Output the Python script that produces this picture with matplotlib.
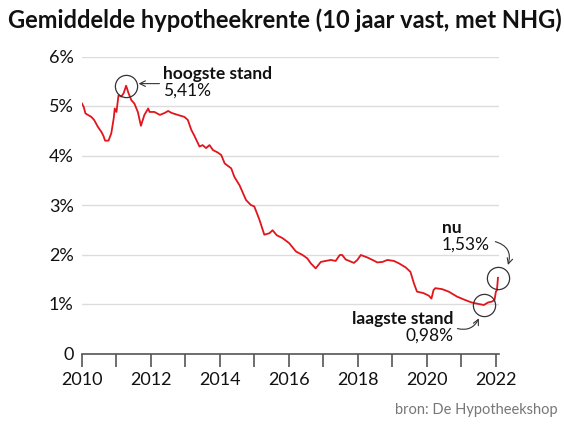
import matplotlib
matplotlib.use('Agg')
import matplotlib.pyplot as plt
import matplotlib.transforms as mtransforms
from matplotlib.ticker import FuncFormatter

plt.rcParams['font.family'] = ['Lato', 'DejaVu Sans']

# gemiddelde hypotheekrente, 10 jaar vast met NHG
dates = [2010.00, 2010.05, 2010.10, 2010.27, 2010.35, 2010.46, 2010.56, 2010.62,
         2010.67, 2010.77, 2010.85, 2010.92, 2010.95, 2011.00, 2011.06, 2011.14,
         2011.21, 2011.28, 2011.35, 2011.43, 2011.52, 2011.62, 2011.71, 2011.81,
         2011.92, 2011.96, 2012.10, 2012.26, 2012.40, 2012.50, 2012.60, 2012.78,
         2012.97, 2013.07, 2013.17, 2013.26, 2013.41, 2013.50, 2013.60, 2013.70,
         2013.80, 2013.94, 2014.04, 2014.14, 2014.33, 2014.42, 2014.57, 2014.76,
         2014.90, 2015.00, 2015.15, 2015.29, 2015.44, 2015.53, 2015.65, 2015.82,
         2016.01, 2016.21, 2016.40, 2016.54, 2016.64, 2016.78, 2016.93, 2017.07,
         2017.22, 2017.36, 2017.48, 2017.55, 2017.65, 2017.89, 2017.99, 2018.09,
         2018.28, 2018.43, 2018.57, 2018.72, 2018.86, 2019.05, 2019.20, 2019.39,
         2019.53, 2019.63, 2019.72, 2019.91, 2020.06, 2020.14, 2020.20, 2020.25,
         2020.45, 2020.64, 2020.88, 2021.12, 2021.31, 2021.51, 2021.66, 2021.78,
         2021.90, 2021.97, 2022.01, 2022.04, 2022.07]
rates = [5.05, 4.98, 4.85, 4.78, 4.72, 4.58, 4.48, 4.40,
         4.30, 4.30, 4.45, 4.75, 4.95, 4.88, 5.22, 5.19,
         5.26, 5.41, 5.26, 5.12, 5.05, 4.88, 4.60, 4.82,
         4.95, 4.88, 4.88, 4.82, 4.86, 4.90, 4.86, 4.82,
         4.78, 4.72, 4.52, 4.40, 4.18, 4.21, 4.15, 4.21,
         4.11, 4.06, 4.01, 3.84, 3.74, 3.57, 3.40, 3.10,
         3.00, 2.97, 2.70, 2.40, 2.43, 2.49, 2.39, 2.33,
         2.23, 2.06, 1.99, 1.92, 1.82, 1.72, 1.85, 1.87,
         1.89, 1.87, 1.99, 1.99, 1.90, 1.83, 1.89, 1.99,
         1.94, 1.89, 1.84, 1.85, 1.89, 1.87, 1.82, 1.74,
         1.65, 1.42, 1.25, 1.22, 1.17, 1.11, 1.28, 1.32,
         1.30, 1.25, 1.15, 1.08, 1.03, 1.00, 0.98, 1.03,
         1.05, 1.08, 1.25, 1.28, 1.53]

year_ticks = list(range(2010, 2023))
labelled_years = [2010, 2012, 2014, 2016, 2018, 2020, 2022]
pct_ticks = [0, 1, 2, 3, 4, 5, 6]

i_high = rates.index(max(rates))
i_low = rates.index(min(rates))
i_now = len(rates) - 1

fig = plt.figure(figsize=(5.64, 4.24), dpi=100)
ax = fig.add_axes([82 / 564, 1 - 353.5 / 424, (499 - 82) / 564, (353.5 - 56.5) / 424])

ax.plot(dates, rates, color='#e2141c', lw=1.3, zorder=3)
ax.set_xlim(2010, 2022.1)
ax.set_ylim(0, 6)

ax.set_yticks(pct_ticks)
ax.yaxis.set_major_formatter(FuncFormatter(lambda v, p: '0' if v == 0 else f'{v:.0f}%'))
ax.set_xticks(year_ticks)
ax.set_xticklabels([str(y) if y in labelled_years else '' for y in year_ticks])
ax.grid(axis='y', color='#dcdcdc', lw=1)
ax.set_axisbelow(True)
for s in ['top', 'right', 'left']:
    ax.spines[s].set_visible(False)
ax.spines['bottom'].set_color('#555555')
ax.spines['bottom'].set_linewidth(1.2)
ax.tick_params(axis='y', length=0, pad=6, labelsize=13, labelcolor='#111111')
ax.tick_params(axis='x', direction='out', length=9, width=1.2, color='#555555',
               pad=4, labelsize=13, labelcolor='#111111')


def shifted(dx, dy):
    # data point moved by (dx, dy) points
    return ax.transData + mtransforms.ScaledTranslation(dx / 72, dy / 72, fig.dpi_scale_trans)


circ = dict(marker='o', ms=16, mfc='none', mec='#333333', mew=0.9, zorder=4, clip_on=False)
for i in (i_high, i_low, i_now):
    ax.plot([dates[i]], [rates[i]], **circ)

arrow = dict(arrowstyle='->', color='#333333', lw=0.8, shrinkA=0, shrinkB=0)

# hoogste stand
dh, vh = dates[i_high], rates[i_high]
ax.annotate('', xy=(dh, vh), xycoords=shifted(9, 1.5),
            xytext=(dh, vh), textcoords=shifted(24, 1.5), arrowprops=arrow)
ax.text(dh, vh, 'hoogste stand', transform=shifted(26.5, 8.5), fontsize=12.5,
        fontweight='bold', ha='left', va='center', color='#111111')
ax.text(dh, vh, '5,41%', transform=shifted(26.5, -3.8), fontsize=12.5,
        ha='left', va='center', color='#111111')

# laagste stand
dl, vl = dates[i_low], rates[i_low]
ax.annotate('', xy=(dl, vl), xycoords=shifted(-3.6, -9.6),
            xytext=(dl, vl), textcoords=shifted(-19, -17),
            arrowprops=dict(arrow, connectionstyle='arc3,rad=0.4'))
ax.text(dl, vl, 'laagste stand', transform=shifted(-22, -10), fontsize=12.5,
        fontweight='bold', ha='right', va='center', color='#111111')
ax.text(dl, vl, '0,98%', transform=shifted(-22, -22.3), fontsize=12.5,
        ha='right', va='center', color='#111111')

# nu
dn, vn = dates[i_now], rates[i_now]
ax.annotate('', xy=(dn, vn), xycoords=shifted(7.2, 9.2),
            xytext=(dn, vn), textcoords=shifted(-1.9, 26),
            arrowprops=dict(arrow, connectionstyle='arc3,rad=-0.5'))
ax.text(dn, vn, 'nu', transform=shifted(-40.5, 35.9), fontsize=12.5,
        fontweight='bold', ha='left', va='center', color='#111111')
ax.text(dn, vn, '1,53%', transform=shifted(-40.5, 23.6), fontsize=12.5,
        ha='left', va='center', color='#111111')

fig.text(8 / 564, 1 - 20 / 424, 'Gemiddelde hypotheekrente (10 jaar vast, met NHG)',
         fontsize=17, fontweight='bold', ha='left', va='center', color='#111111')
fig.text(558 / 564, 1 - 410 / 424, 'bron: De Hypotheekshop', fontsize=10.5,
         ha='right', va='center', color='#777777')

fig.savefig('out.png', dpi=100)
